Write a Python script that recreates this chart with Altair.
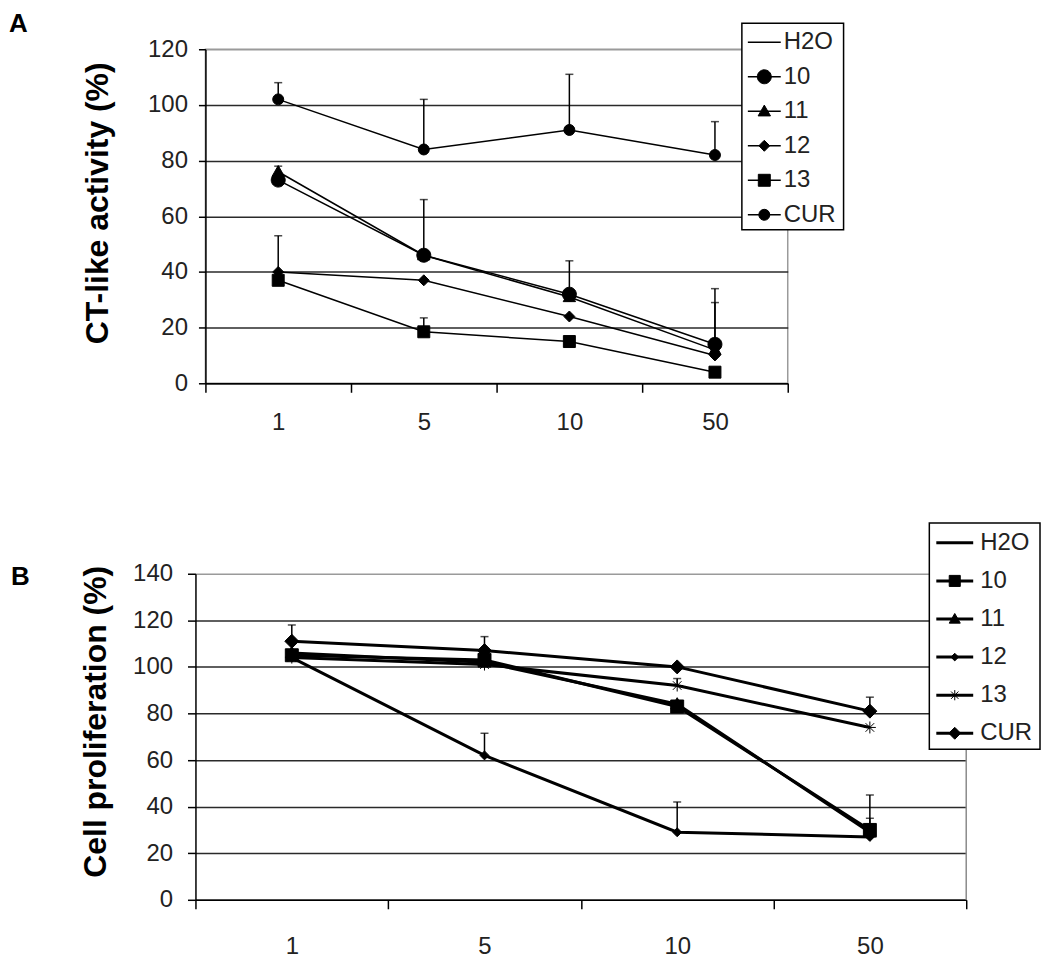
import altair as alt
import pandas as pd

FONT = "Liberation Sans"

doses = ["1", "5", "10", "50"]
series = ["H2O", "10", "11", "12", "13", "CUR"]

# ---------------- Panel A: CT-like activity (%) ----------------
a_values = {
    "10": [73, 46, 32, 14],
    "11": [76, 46, 31, 12],
    "12": [40, 37, 24, 10],
    "13": [37, 18.5, 15, 4],
    "CUR": [102, 84, 91, 82],
}
a_errors = {
    "10": [0, 20, 12, 20],
    "11": [2, 0, 0, 17],
    "12": [13, 0, 0, 0],
    "13": [0, 5, 0, 0],
    "CUR": [6, 18, 20, 12],
}

# ---------------- Panel B: Cell proliferation (%) ----------------
b_values = {
    "10": [105, 103, 83, 30],
    "11": [106, 102, 84, 29],
    "12": [104, 62, 29, 27],
    "13": [104, 101, 92, 74],
    "CUR": [111, 107, 100, 81],
}
b_errors = {
    "10": [0, 0, 0, 15],
    "11": [0, 0, 0, 6],
    "12": [0, 9.5, 13, 0],
    "13": [0, 0, 3, 0],
    "CUR": [7, 6, 0, 6],
}


def circle(r):
    return f"M{-r},0A{r},{r} 0 1,0 {r},0A{r},{r} 0 1,0 {-r},0Z"


def square(h):
    return f"M{-h},{-h}L{h},{-h}L{h},{h}L{-h},{h}Z"


def diamond(h):
    return f"M0,{-h}L{h},0L0,{h}L{-h},0Z"


def triangle(h):
    return f"M0,{-h}L{h},{h * 0.75}L{-h},{h * 0.75}Z"


def asterisk(h):
    d = round(h * 0.72, 3)
    return (f"M{-h},0L{h},0M0,{-h}L0,{h}"
            f"M{-d},{-d}L{d},{d}M{-d},{d}L{d},{-d}")


EMPTY = "M0,0"

# marker paths (unit = 10 px with size 400)
a_marks = [EMPTY, circle(0.7), triangle(0.62), diamond(0.55), square(0.6), circle(0.55)]
b_marks = [EMPTY, square(0.65), triangle(0.65), diamond(0.45), asterisk(0.6), diamond(0.7)]


def to_frame(values, errors):
    rows = []
    for s in series:
        if s not in values:
            continue
        for i, d in enumerate(doses):
            v = values[s][i]
            e = errors[s][i]
            rows.append({"series": s, "dose": d, "di": i, "value": v,
                         "err": e, "upper": v + e})
    return pd.DataFrame(rows)


legend_df = pd.DataFrame({"series": series, "rank": list(range(len(series)))})


def panel(df, ymax, title_text, ytitle, width, height, lw, marks, lg,
          title_dx, title_dy, ytitle_x, ytitle_y, ylab_pad, xlab_pad, ytick,
          x_range=None, y_offset=0, right_border=False, view_stroke="transparent"):
    grid_color = {"condition": {"test": f"datum.value === {ymax}", "value": "#9a9a9a"},
                  "value": "#2a2a2a"}
    xscale = alt.Scale(paddingInner=0, paddingOuter=0)
    if x_range is not None:
        xscale = alt.Scale(paddingInner=0, paddingOuter=0, range=x_range)
    x = alt.X("dose:N", sort=doses, scale=xscale,
              axis=alt.Axis(title=None, labelAngle=0, tickBand="extent", tickSize=9,
                            tickColor="black", tickWidth=1.5, domainColor="black",
                            domainWidth=1.5, labelFont=FONT, labelFontSize=24,
                            labelColor="#222", labelPadding=xlab_pad, grid=False))
    y = alt.Y("value:Q", scale=alt.Scale(domain=[0, ymax], nice=False),
              axis=alt.Axis(values=list(range(0, ymax + 1, 20)), title=ytitle,
                            titleFont=FONT, titleFontSize=32, titleFontWeight="bold",
                            titleColor="black", titleAngle=270, titleAlign="center",
                            titleBaseline="alphabetic", titleX=ytitle_x, titleY=ytitle_y,
                            labelFont=FONT, labelFontSize=24, labelColor="#222",
                            labelPadding=ylab_pad, tickSize=ytick, tickColor="black",
                            tickWidth=1.5, domainColor="black", domainWidth=1.5,
                            offset=y_offset,
                            grid=True, gridColor=grid_color, gridWidth=1.5))
    shape = alt.Shape("series:N", scale=alt.Scale(domain=series, range=marks),
                      legend=None)
    base = alt.Chart(df)
    lines = base.mark_line(color="black", strokeWidth=lw).encode(
        x=x, y=y, detail="series:N", order="di:Q")
    errdf = base.transform_filter("datum.err > 0")
    rules = errdf.mark_rule(color="black", strokeWidth=1.5).encode(
        x=x, y="value:Q", y2="upper:Q")
    caps = errdf.mark_tick(orient="horizontal", size=8, thickness=1.5,
                           color="black").encode(x=x, y="upper:Q")
    points = base.mark_point(filled=True, fill="black", stroke="black",
                             strokeWidth=1, size=400, opacity=1).encode(
        x=x, y=y, shape=shape)

    layers = [lines, rules, caps, points]
    if right_border:
        layers.append(alt.Chart(pd.DataFrame({"b": [0]})).mark_rule(
            color="#8a8a8a", strokeWidth=1.5).encode(
            x=alt.value(width), y=alt.value(0), y2=alt.value(height)))

    # legend box, entries drawn from the series list
    box = alt.Chart(pd.DataFrame({"b": [0]})).mark_rect(
        fill="white", stroke="black", strokeWidth=1.5).encode(
        x=alt.value(lg["bx1"]), x2=alt.value(lg["bx2"]),
        y=alt.value(lg["by1"]), y2=alt.value(lg["by2"]))
    lgbase = alt.Chart(legend_df).transform_calculate(
        py=f"{lg['y0']} + datum.rank * {lg['step']}")
    ypix = alt.Y("py:Q", scale=None)
    leg_line = lgbase.mark_rule(color="black", strokeWidth=lw).encode(
        x=alt.value(lg["lx1"]), x2=alt.value(lg["lx2"]), y=ypix)
    leg_mark = lgbase.mark_point(filled=True, fill="black", stroke="black",
                                 strokeWidth=1, size=lg["msize"], opacity=1).encode(
        x=alt.value((lg["lx1"] + lg["lx2"]) / 2), y=ypix, shape=shape)
    leg_text = lgbase.mark_text(align="left", baseline="middle", font=FONT,
                                fontSize=24, color="#222").encode(
        x=alt.value(lg["tx"]), y=ypix, text="series:N")
    layers += [box, leg_line, leg_mark, leg_text]

    ch = alt.layer(*layers).properties(
        width=width, height=height,
        view=alt.ViewBackground(stroke=view_stroke, strokeWidth=1.5),
        title=alt.TitleParams(title_text, anchor="start", frame="group",
                              dx=title_dx, dy=title_dy, font=FONT, fontSize=26,
                              fontWeight="bold", color="black"))
    return ch


dfA = to_frame(a_values, a_errors)
dfB = to_frame(b_values, b_errors)

legA = dict(bx1=538, bx2=640, by1=-26, by2=181, y0=-7, step=34.6,
            lx1=544, lx2=577, tx=580, msize=400)
legB = dict(bx1=726, bx2=837, by1=-51, by2=176, y0=-31, step=38.2,
            lx1=733, lx2=770, tx=777, msize=290)

chartA = panel(dfA, 120, "A", "CT-like activity (%)", 584, 335, 1.5, a_marks, legA,
               -197, 18, -98, 154, 11, 18, 7, view_stroke="#9a9a9a")
# panel B: plot starts 10 px left of panel A's origin
chartB = panel(dfB, 140, "B", "Cell proliferation (%)", 763, 327, 3, b_marks, legB,
               -195, 72, -90, 148, 15, 26, 8, x_range=[-10, 763], y_offset=10,
               right_border=True, view_stroke="transparent")

chart = alt.vconcat(chartA, chartB, spacing=86).resolve_scale(
    shape="independent").properties(padding=0).configure_view(
    stroke="transparent").configure(background="white")

chart.save("out.html", embed_options={"renderer": "svg", "actions": False})
